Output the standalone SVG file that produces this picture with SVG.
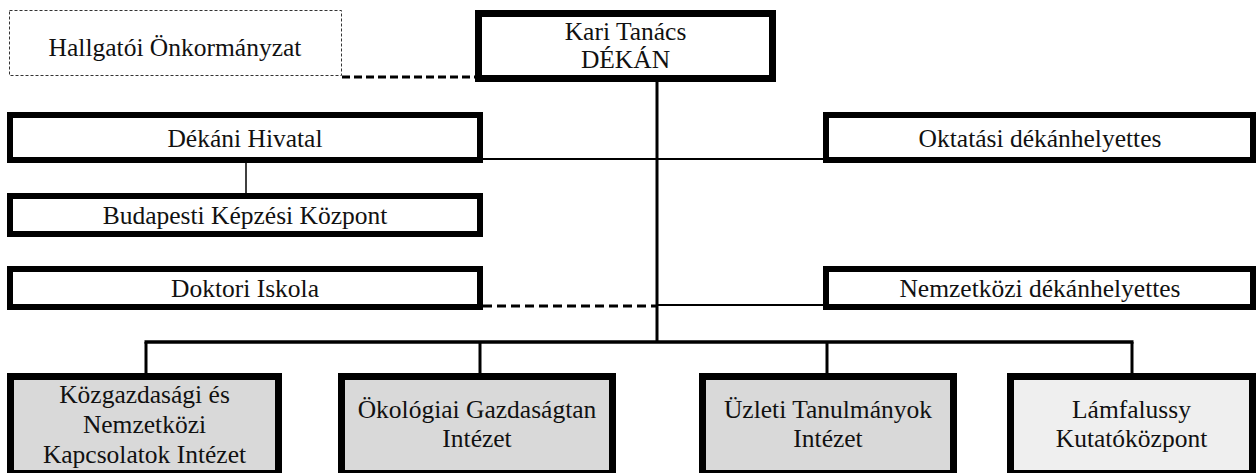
<svg xmlns="http://www.w3.org/2000/svg" width="1258" height="473" viewBox="0 0 1258 473">
<style>
text{font-family:'Liberation Serif','Times New Roman',Times,'DejaVu Serif',serif;font-size:25.5px;fill:#111;text-anchor:middle}
.b6{fill:#fff;stroke:#000;stroke-width:6}
.b7{fill:#fff;stroke:#000;stroke-width:7}
.g{fill:#d9d9d9;stroke:#000;stroke-width:7}
.lg{fill:#efefef;stroke:#000;stroke-width:7}
.c{stroke:#000;fill:none}
</style>
<rect width="1258" height="473" fill="#fff"/>
<g id="connectors">
<line class="c" x1="657" y1="82" x2="657" y2="342" stroke-width="3"/>
<line class="c" x1="144.5" y1="342" x2="1133.5" y2="342" stroke-width="3.5"/>
<line class="c" x1="146" y1="342" x2="146" y2="374" stroke-width="3"/>
<line class="c" x1="480" y1="342" x2="480" y2="374" stroke-width="3"/>
<line class="c" x1="827" y1="342" x2="827" y2="374" stroke-width="3"/>
<line class="c" x1="1132" y1="342" x2="1132" y2="374" stroke-width="3"/>
<line class="c" x1="483" y1="159" x2="823" y2="159" stroke-width="2"/>
<line class="c" x1="246" y1="163" x2="246" y2="193" stroke-width="1.5"/>
<line class="c" x1="342" y1="77" x2="476" y2="77" stroke-width="3" stroke-dasharray="8,4"/>
<line class="c" x1="483" y1="306" x2="657" y2="306" stroke-width="3" stroke-dasharray="9,5"/>
<line class="c" x1="657" y1="305" x2="823" y2="305" stroke-width="2"/>
</g>
<g id="hallgatoi" font-family="Liberation Serif, serif">
<rect x="9.5" y="10.5" width="332" height="65" fill="#fff" stroke="#333" stroke-width="1" stroke-dasharray="3,2"/>
<text x="175" y="56">Hallgatói Önkormányzat</text>
</g>
<g id="kari-tanacs">
<rect class="b7" x="478.5" y="13.5" width="294" height="65"/>
<text x="625.5" y="40">Kari Tanács</text>
<text x="625.5" y="68">DÉKÁN</text>
</g>
<g id="dekani-hivatal">
<rect class="b6" x="10" y="115" width="470" height="45"/>
<text x="245" y="147">Dékáni Hivatal</text>
</g>
<g id="oktatasi">
<rect class="b6" x="826" y="115" width="427" height="45"/>
<text x="1040" y="147">Oktatási dékánhelyettes</text>
</g>
<g id="budapesti">
<rect class="b6" x="10" y="196" width="470" height="38"/>
<text x="245" y="224">Budapesti Képzési Központ</text>
</g>
<g id="doktori">
<rect class="b6" x="10" y="269" width="470" height="38"/>
<text x="245" y="297">Doktori Iskola</text>
</g>
<g id="nemzetkozi">
<rect class="b6" x="826" y="269" width="427" height="38"/>
<text x="1040" y="297">Nemzetközi dékánhelyettes</text>
</g>
<g id="kozgazdasagi">
<rect class="g" x="10.5" y="376.5" width="268" height="97"/>
<text x="144.5" y="403">Közgazdasági és</text>
<text x="144.5" y="433">Nemzetközi</text>
<text x="144.5" y="463">Kapcsolatok Intézet</text>
</g>
<g id="okologiai">
<rect class="g" x="341.5" y="376.5" width="271" height="97"/>
<text x="477" y="418">Ökológiai Gazdaságtan</text>
<text x="477" y="447">Intézet</text>
</g>
<g id="uzleti">
<rect class="g" x="702.5" y="376.5" width="251" height="97"/>
<text x="828" y="418">Üzleti Tanulmányok</text>
<text x="828" y="447">Intézet</text>
</g>
<g id="lamfalussy">
<rect class="lg" x="1010.5" y="376.5" width="242" height="97"/>
<text x="1131.5" y="418">Lámfalussy</text>
<text x="1131.5" y="447">Kutatóközpont</text>
</g>
</svg>
